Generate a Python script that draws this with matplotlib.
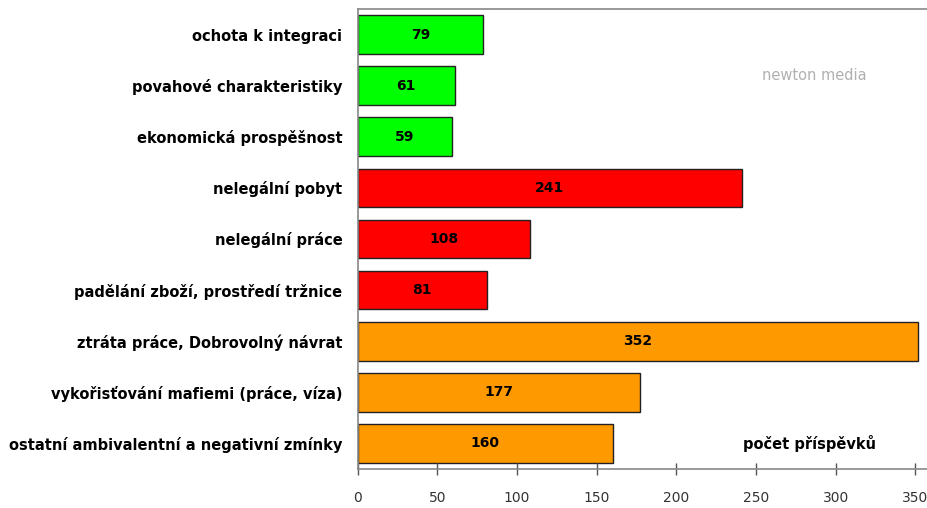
import matplotlib
matplotlib.use("Agg")
import matplotlib.pyplot as plt

categories = [
    "ochota k integraci",
    "povahové charakteristiky",
    "ekonomická prospěšnost",
    "nelegální pobyt",
    "nelegální práce",
    "padělání zboží, prostředí tržnice",
    "ztráta práce, Dobrovolný návrat",
    "vykořisťování mafiemi (práce, víza)",
    "ostatní ambivalentní a negativní zmínky",
]
values = [79, 61, 59, 241, 108, 81, 352, 177, 160]
colors = ["#00FF00"] * 3 + ["#FF0000"] * 3 + ["#FF9900"] * 3
xticks = [0, 50, 100, 150, 200, 250, 300, 350]
axis_title = "počet příspěvků"

fig = plt.figure(figsize=(9.28, 5.08), dpi=100)
ax = fig.add_axes([0.3853, 0.0768, 0.6147, 0.9055])

y = list(range(len(categories)))
ax.barh(y, values, height=0.755, color=colors, edgecolor="#222222", linewidth=1.0)
for yi, v in zip(y, values):
    ax.text(v / 2, yi, str(v), ha="center", va="center", fontsize=10,
            fontweight="bold", color="black")

ax.set_ylim(len(categories) - 0.5, -0.5)
ax.set_xlim(0, 358)
ax.set_yticks(y)
ax.set_yticklabels(categories, fontsize=10.5, fontweight="bold")
ax.tick_params(axis="y", length=0, pad=11)
ax.set_xticks(xticks)
ax.set_xticklabels([str(t) for t in xticks], fontsize=10, color="#333333")
ax.tick_params(axis="x", direction="inout", length=8, width=1, color="#555555", pad=12)

for side in ["left", "bottom", "top"]:
    ax.spines[side].set_color("#888888")
    ax.spines[side].set_linewidth(1.2)
ax.spines["right"].set_visible(False)

ax.text(283.5, 8, axis_title, ha="center", va="center", fontsize=10.5, fontweight="bold")
ax.text(286.5, 0.8, "newton media", ha="center", va="center", fontsize=10.5,
        color="#b0b0b0")

fig.savefig("out.png", dpi=100)
